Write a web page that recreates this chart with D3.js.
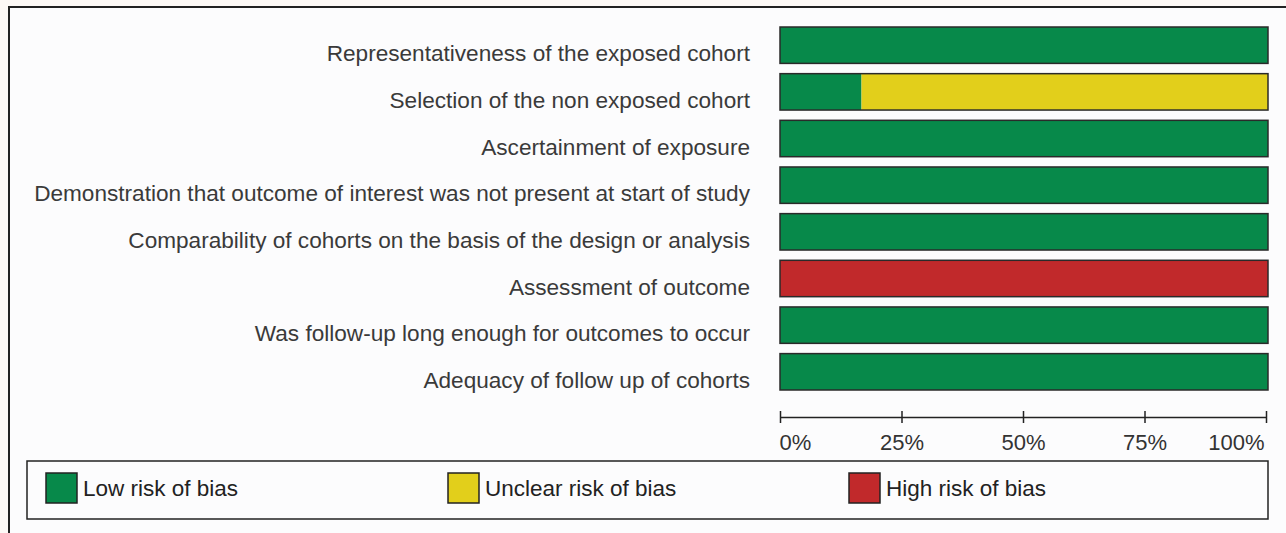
<!DOCTYPE html>
<html><head><meta charset="utf-8">
<script src="https://cdn.jsdelivr.net/npm/d3@7"></script>
<style>body{margin:0;background:#fdf9f6;} svg{display:block;}</style>
</head><body>
<svg id="c" width="1286" height="533"></svg>
<script>
const categories = [
  "Representativeness of the exposed cohort",
  "Selection of the non exposed cohort",
  "Ascertainment of exposure",
  "Demonstration that outcome of interest was not present at start of study",
  "Comparability of cohorts on the basis of the design or analysis",
  "Assessment of outcome",
  "Was follow-up long enough for outcomes to occur",
  "Adequacy of follow up of cohorts"
];
const lowRisk     = [100, 16.7, 100, 100, 100, 0, 100, 100];
const unclearRisk = [0, 83.3, 0, 0, 0, 0, 0, 0];
const highRisk    = [0, 0, 0, 0, 0, 100, 0, 0];
const seriesNames = ["Low risk of bias", "Unclear risk of bias", "High risk of bias"];
const seriesColors = ["#07894a", "#e2cf1b", "#c1292b"];
const tickValues = [0, 25, 50, 75, 100];

const svg = d3.select("#c");
const font = "'Liberation Sans', Arial, sans-serif";

// frame
svg.append("rect").attr("x", 9).attr("y", 7).attr("width", 1300).attr("height", 540)
  .attr("fill", "#fcfcfd").attr("stroke", "#222").attr("stroke-width", 2);

const x = d3.scaleLinear().domain([0, 100]).range([780, 1268]);
const y = d3.scaleBand().domain(categories).range([20, 397]).paddingInner(0.22).paddingOuter(0.15);

const rows = categories.map((c, i) => {
  const vals = [lowRisk[i], unclearRisk[i], highRisk[i]];
  let acc = 0;
  return vals.map((v, k) => { const s = {cat: c, k, x0: acc, x1: acc + v}; acc += v; return s; }).filter(s => s.x1 > s.x0);
}).flat();

svg.append("g").selectAll("rect").data(rows).join("rect")
  .attr("x", d => x(d.x0)).attr("width", d => x(d.x1) - x(d.x0))
  .attr("y", d => y(d.cat)).attr("height", y.bandwidth())
  .attr("fill", d => seriesColors[d.k]);
// outlines per row
svg.append("g").selectAll("rect").data(categories).join("rect")
  .attr("x", x(0)).attr("width", x(100) - x(0))
  .attr("y", d => y(d)).attr("height", y.bandwidth())
  .attr("fill", "none").attr("stroke", "#2a2a2a").attr("stroke-width", 1.5);

svg.append("g").selectAll("text").data(categories).join("text")
  .attr("x", 750).attr("y", d => y(d) + y.bandwidth() - 2)
  .attr("text-anchor", "end").attr("font-family", font).attr("font-size", 22.6)
  .attr("fill", "#3a3a3a").text(d => d);

// axis
const axis = d3.axisBottom(d3.scaleLinear().domain([0,100]).range([780, 1266]))
  .tickValues(tickValues).tickFormat(d => d + "%").tickSize(6).tickSizeOuter(0);
const ag = svg.append("g").attr("transform", "translate(0,417)").call(axis);
ag.select(".domain").attr("stroke", "#222").attr("stroke-width", 1.5);
ag.selectAll(".tick line").attr("stroke", "#222").attr("stroke-width", 1.5).attr("y1", -6).attr("y2", 6);
ag.selectAll(".tick text").attr("font-family", font).attr("font-size", 22).attr("fill", "#333")
  .attr("y", 33).attr("dy", 0).attr("text-anchor", (d, i) => i === 0 ? "start" : (i === 4 ? "end" : "middle"))
  .attr("dx", (d, i) => i === 0 ? -1 : (i === 4 ? -2 : 0));

// legend
svg.append("rect").attr("x", 27).attr("y", 461).attr("width", 1241).attr("height", 58)
  .attr("fill", "#fcfcfd").attr("stroke", "#222").attr("stroke-width", 1.5);
const legX = [46, 448, 849];
const lg = svg.append("g").selectAll("g").data(seriesNames).join("g")
  .attr("transform", (d, i) => `translate(${legX[i]},473)`);
lg.append("rect").attr("width", 31).attr("height", 30).attr("fill", (d, i) => seriesColors[i])
  .attr("stroke", "#222").attr("stroke-width", 1.5);
lg.append("text").attr("x", 37).attr("y", 23).attr("font-family", font).attr("font-size", 22.5)
  .attr("fill", "#222").text(d => d);
</script>
</body></html>
